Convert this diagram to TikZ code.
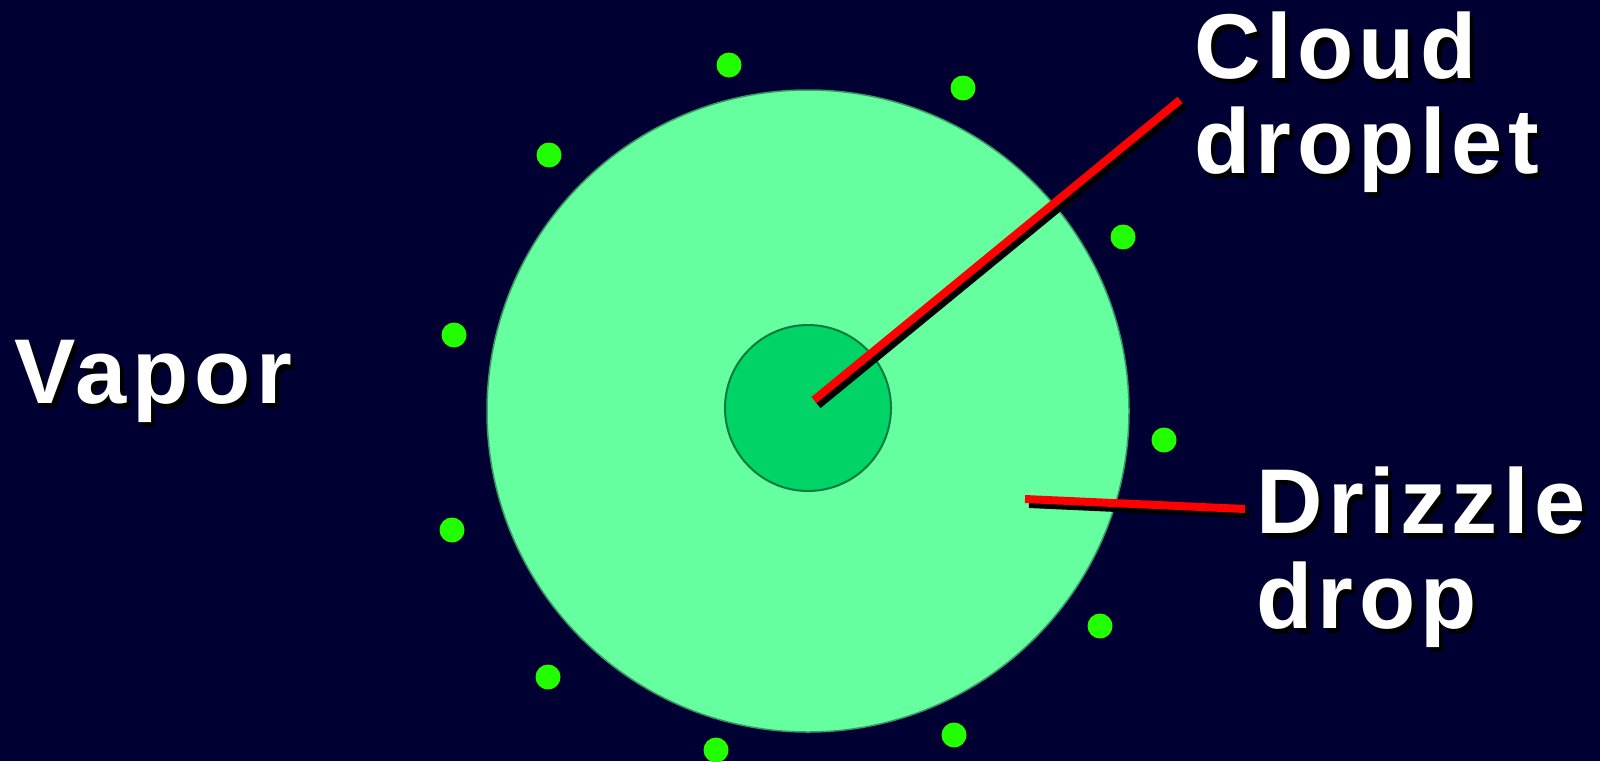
\documentclass[tikz,border=0pt]{standalone}
\usepackage{fontspec}
\setmainfont{Liberation Sans}
\newfontfamily\tagfont[LetterSpace=6]{Liberation Sans}
\usetikzlibrary{positioning}
\definecolor{skynavy}{HTML}{000033}
\definecolor{drizzlegreen}{HTML}{66FFA0}
\definecolor{drizzleedge}{HTML}{3A9A66}
\definecolor{dropletgreen}{HTML}{00D466}
\definecolor{dropletedge}{HTML}{0A7A3E}
\definecolor{vaporgreen}{HTML}{22FF00}
\definecolor{pointerred}{HTML}{FF0000}
\tikzset{
  tag/.style={font=\tagfont\bfseries\fontsize{92}{95}\selectfont, text=white,
    inner sep=0pt, anchor=base west, align=left},
  tagshadow/.style={tag, text=black, xshift=4pt, yshift=-5pt},
  pointer/.style={pointerred, line width=8pt},
  pointershadow/.style={black, line width=8pt, transform canvas={shift={(4pt,-5pt)}}},
}

\begin{document}
\begin{tikzpicture}[x=1pt, y=-1pt]
        \useasboundingbox (0,0) rectangle (1600,761);
        \fill[skynavy] (0,0) rectangle (1600,761);
        % drizzle drop and cloud droplet
        \node[circle, fill=drizzlegreen, draw=drizzleedge, line width=1.5pt,
          minimum size=642pt, inner sep=0pt] (drizzle) at (808,411) {};
        \node[circle, fill=dropletgreen, draw=dropletedge, line width=2pt,
          minimum size=166pt, inner sep=0pt] (droplet) at (808,408) {};
        % vapor molecules
        \foreach \p in {(729,65),(963,88),(549,155),(1123,237),(454,335),(1164,440),
            (452,530),(1100,626),(548,677),(954,735),(716,750)}
          \fill[vaporgreen] \p circle (12.5);
        % labels (base = last line)
        \node[tagshadow] (vaporS) at (14,403) {Vapor};
        \node[tag] (vapor) at (14,403) {Vapor};
        \node[tagshadow] (cloudS) at (1194,173) {Cloud\\droplet};
        \node[tag] (cloud) at (1194,173) {Cloud\\droplet};
        \node[tagshadow] (drizzlelabelS) at (1256,628) {Drizzle\\drop};
        \node[tag] (drizzlelabel) at (1256,628) {Drizzle\\drop};
        % pointers
        \coordinate (dropletpt) at (814,400);
        \coordinate (cloudend) at (1180,100);
        \coordinate (drizzlept) at (1025,499);
        \coordinate (drizzleend) at (1245,509);
        \draw[pointershadow] (dropletpt) -- (cloudend);
        \draw[pointer] (dropletpt) -- (cloudend);
        \draw[pointershadow] (drizzlept) -- (drizzleend);
        \draw[pointer] (drizzlept) -- (drizzleend);
      \end{tikzpicture}
\end{document}
